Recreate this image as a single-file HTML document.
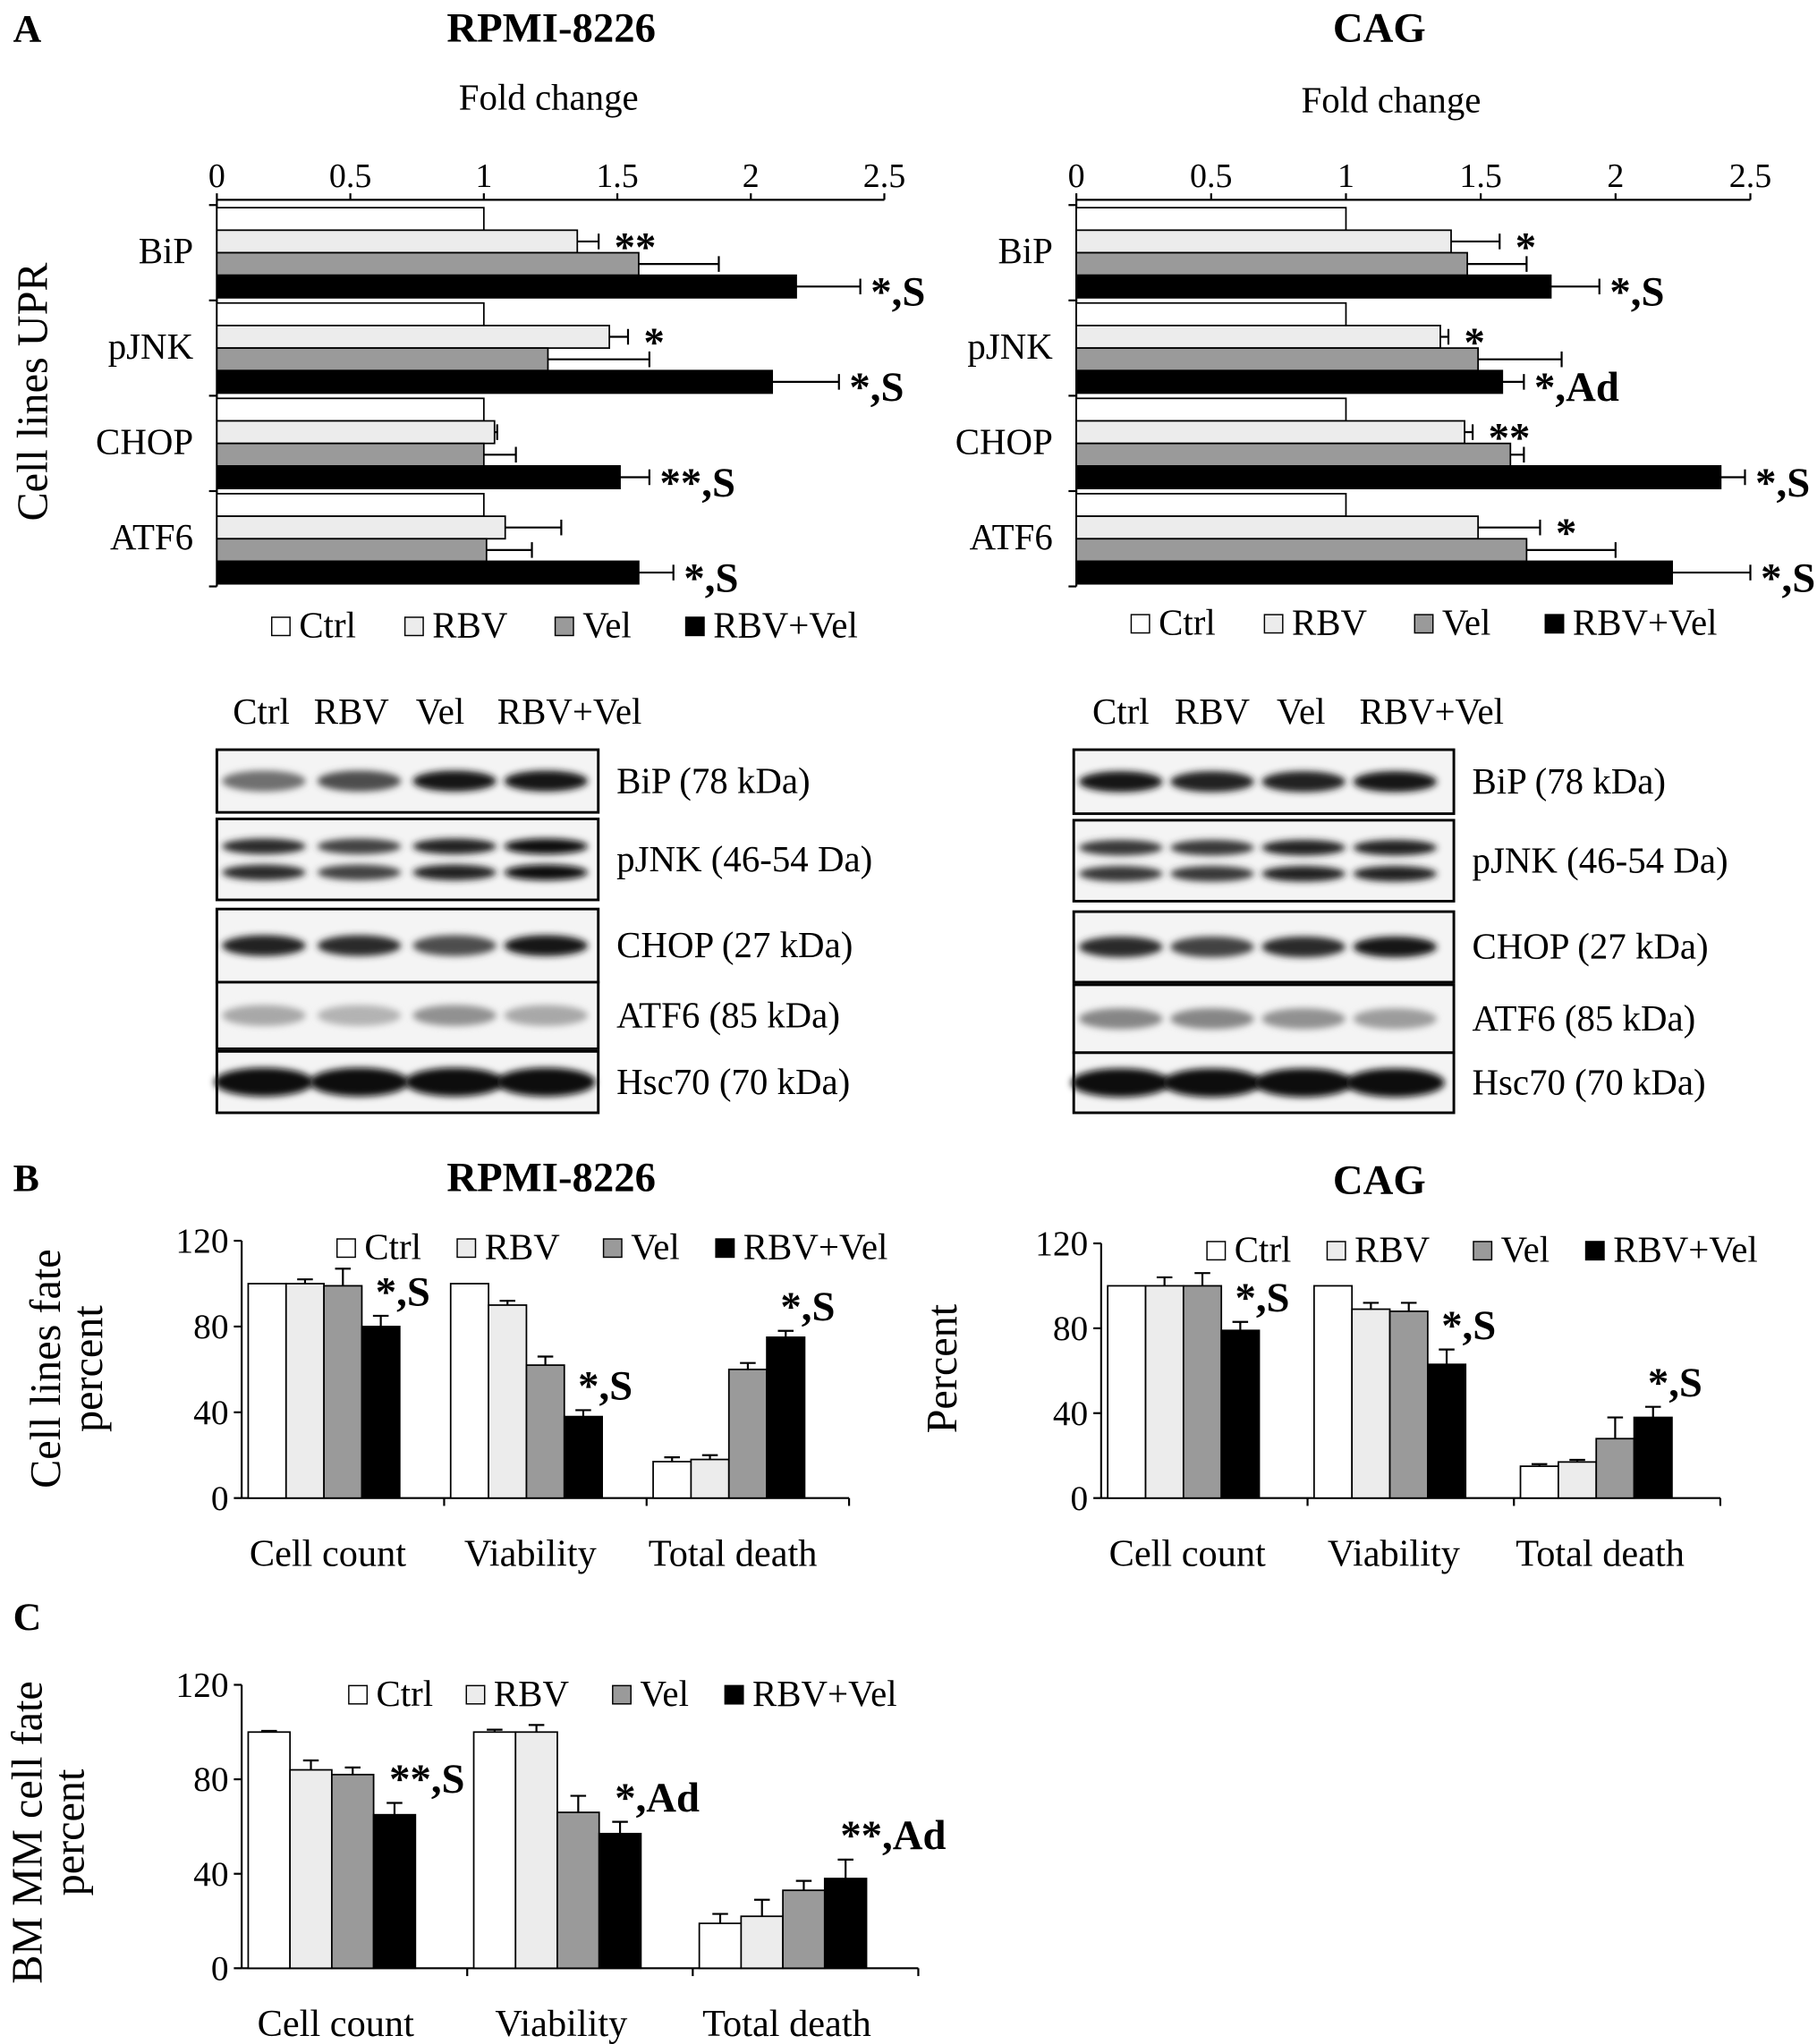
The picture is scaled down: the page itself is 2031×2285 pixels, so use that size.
<!DOCTYPE html>
<html><head><meta charset="utf-8"><style>
html,body{margin:0;padding:0;background:#fff}
svg{display:block}
text{font-family:"Liberation Serif",serif;fill:#000}
</style></head><body>
<svg id="fig" width="2031" height="2285" viewBox="0 0 1391 1565" xmlns="http://www.w3.org/2000/svg">
<defs><filter id="blur" x="-50%" y="-50%" width="200%" height="200%"><feGaussianBlur stdDeviation="2.5"/></filter></defs>
<g id="root"></g>
</svg>
<script>
// ---------- data ----------
const series = ["Ctrl","RBV","Vel","RBV+Vel"];
const upr = ["BiP","pJNK","CHOP","ATF6"];
const foldTicks = [0,0.5,1,1.5,2,2.5];
const rpmiFold = [[1,1.35,1.58,2.17],[1,1.47,1.24,2.08],[1,1.04,1,1.51],[1,1.08,1.01,1.58]];
const rpmiFoldErr = [[null,1.43,1.88,2.41],[null,1.54,1.62,2.33],[null,1.05,1.12,1.62],[null,1.29,1.18,1.71]];
const rpmiFoldSig = [["**","*,S"],["*","*,S"],["","**,S"],["","*,S"]];
const cagFold = [[1,1.39,1.45,1.76],[1,1.35,1.49,1.58],[1,1.44,1.61,2.39],[1,1.49,1.67,2.21]];
const cagFoldErr = [[null,1.57,1.67,1.94],[null,1.38,1.8,1.66],[null,1.47,1.66,2.48],[null,1.72,2.0,2.5]];
const cagFoldSig = [["*","*,S"],["*","*,Ad"],["**","*,S"],["*","*,S"]];
const fateCats = ["Cell count","Viability","Total death"];
const pctTicks = [0,40,80,120];
const rpmiFate = [[100,100,99,80],[100,90,62,38],[17,18,60,75]];
const rpmiFateErr = [[null,102,107,85],[null,92,66,41],[19,20,63,78]];
const rpmiFateSig = ["*,S","*,S","*,S"];
const cagFate = [[100,100,100,79],[100,89,88,63],[15,17,28,38]];
const cagFateErr = [[null,104,106,83],[null,92,92,70],[16,18,38,43]];
const cagFateSig = ["*,S","*,S","*,S"];
const bmFate = [[100,84,82,65],[100,100,66,57],[19,22,33,38]];
const bmFateErr = [[100.5,88,85,70],[101,103,73,62],[23,29,37,46]];
const bmFateSig = ["**,S","*,Ad","**,Ad"];
const blotNames = ["BiP (78 kDa)","pJNK (46-54 Da)","CHOP (27 kDa)","ATF6 (85 kDa)","Hsc70 (70 kDa)"];
const rpmiBand = [[0.55,0.7,0.95,0.95],[0.85,0.75,0.9,1],[0.9,0.85,0.7,0.95],[0.3,0.25,0.4,0.3],[1,1,1,1]];
const cagBand = [[0.95,0.9,0.9,0.95],[0.8,0.8,0.9,0.9],[0.85,0.75,0.85,0.95],[0.45,0.45,0.4,0.35],[1,1,1,1]];
// ---------- helpers ----------
const NS="http://www.w3.org/2000/svg", root=document.getElementById('root');
const fills=["#ffffff","#ececec","#9a9a9a","#000000"];
function el(tag,attrs,parent,txt){const e=document.createElementNS(NS,tag);for(const k in attrs)e.setAttribute(k,attrs[k]);if(txt!==undefined)e.textContent=txt;(parent||root).appendChild(e);return e;}
function txt(x,y,s,size,opts,parent){const o=Object.assign({x:x,y:y,'font-size':size},opts||{});const t=el('text',o,parent,s);return t;}

function legend(x,y,items,gap,size,g){
  let cx=x;
  items.forEach((s,i)=>{
    const r=el('rect',{x:cx,y:y-size*0.55,width:size*0.5,height:size*0.5,fill:fills[i],stroke:'#000','stroke-width':1},g);
    
    
    const t=txt(cx+size*0.75,y,s,size,{},g);
    
    
    cx+=gap[i];
  });
}

function hChart(o){
  const g=el('g',{});
  
  
  const xs=v=>o.x0+(v/2.5)*(o.x1-o.x0);
  el('line',{x1:o.x0,y1:o.y0,x2:o.x1,y2:o.y0,stroke:'#000','stroke-width':1.5},g);
  el('line',{x1:o.x0,y1:o.y0,x2:o.x0,y2:o.y0+o.gh*4+4,stroke:'#000','stroke-width':1.5},g);
  foldTicks.forEach(t=>{
    el('line',{x1:xs(t),y1:o.y0-5,x2:xs(t),y2:o.y0,stroke:'#000','stroke-width':1.5},g);
    const tl=txt(xs(t),o.y0-10,String(t),26,{'text-anchor':'middle'},g);
    
    
  });
  for(let k=0;k<=4;k++)el('line',{x1:o.x0-6,y1:o.y0+4+k*o.gh,x2:o.x0,y2:o.y0+4+k*o.gh,stroke:'#000','stroke-width':1.5},g);
  const bh=(o.gh-4)/4;
  upr.forEach((c,ci)=>{
    const gy=o.y0+6+ci*o.gh;
    const cl=txt(o.x0-18,gy+bh*2+8,c,28,{'text-anchor':'end'},g);
    
    
    o.vals[ci].forEach((v,si)=>{
      const y=gy+si*bh;
      const r=el('rect',{x:o.x0,y:y,width:xs(v)-o.x0,height:bh,fill:fills[si],stroke:'#000','stroke-width':1.2},g);
      
      
      const e=o.err[ci][si];
      if(e!=null){
        el('line',{x1:xs(v),y1:y+bh/2,x2:xs(e),y2:y+bh/2,stroke:'#000','stroke-width':1.5},g);
        el('line',{x1:xs(e),y1:y+bh/2-6,x2:xs(e),y2:y+bh/2+6,stroke:'#000','stroke-width':1.5},g);
      }
    });
    const s=o.sig[ci];
    if(s[0]){const e=Math.max(o.err[ci][1]||0,o.vals[ci][1]);const t=txt(xs(e)+12,gy+bh*2+6,s[0],32,{'font-weight':'bold'},g);}
    if(s[1]){const e=o.err[ci][3];const t=txt(xs(e)+8,gy+bh*4+6,s[1],32,{'font-weight':'bold'},g);}
  });
  return g;
}

function vChart(o){
  const g=el('g',{});
  
  
  const ys=v=>o.y0-(v/120)*(o.y0-o.y1);
  el('line',{x1:o.x0,y1:o.y1,x2:o.x0,y2:o.y0,stroke:'#000','stroke-width':1.5},g);
  el('line',{x1:o.x0,y1:o.y0,x2:o.xe,y2:o.y0,stroke:'#000','stroke-width':1.5},g);
  pctTicks.forEach(t=>{
    el('line',{x1:o.x0-6,y1:ys(t),x2:o.x0,y2:ys(t),stroke:'#000','stroke-width':1.5},g);
    const tl=txt(o.x0-10,ys(t)+9,String(t),27,{'text-anchor':'end'},g);
    
    
  });
  const gw=(o.xe-o.x0)/3;
  for(let k=1;k<=3;k++)el('line',{x1:o.x0+k*gw,y1:o.y0,x2:o.x0+k*gw,y2:o.y0+6,stroke:'#000','stroke-width':1.5},g);
  fateCats.forEach((c,ci)=>{
    const gx=o.x0+ci*gw+o.pad;
    const cl=txt(gx+2*o.bw+3,o.y0+52,c,29,{'text-anchor':'middle'},g);
    
    
    o.vals[ci].forEach((v,si)=>{
      const x=gx+si*o.bw;
      const r=el('rect',{x:x,y:ys(v),width:o.bw,height:o.y0-ys(v),fill:fills[si],stroke:'#000','stroke-width':1.2},g);
      
      
      const e=o.err[ci][si];
      if(e!=null){
        el('line',{x1:x+o.bw/2,y1:ys(v),x2:x+o.bw/2,y2:ys(e),stroke:'#000','stroke-width':1.5},g);
        el('line',{x1:x+o.bw/2-6,y1:ys(e),x2:x+o.bw/2+6,y2:ys(e),stroke:'#000','stroke-width':1.5},g);
      }
    });
    const e=o.err[ci][3];
    const t=txt(gx+3*o.bw+o.bw/2-4,ys(e)-8,o.sig[ci],32,{'font-weight':'bold'},g);
    
    
  });
  return g;
}

function blot(o){
  const g=el('g',{});
  
  
  o.rows.forEach((r,ri)=>{
    const [y0,y1]=r;
    const bg=el('rect',{x:o.x0,y:y0,width:o.x1-o.x0,height:y1-y0,fill:'#f4f4f4',stroke:'#000','stroke-width':2},g);
    
    
    const cy=(y0+y1)/2;
    const bands=ri===1?[cy-10,cy+10]:[cy];
    o.intens[ri].forEach((v,li)=>{
      const shade=Math.round(235-225*v);
      bands.forEach(by=>{
        el('ellipse',{cx:o.lanes[li],cy:by,rx:ri===4?38:32,ry:ri===4?11:(ri===1?6:8),fill:'rgb('+shade+','+shade+','+shade+')',filter:'url(#blur)'},g);
      });
    });
    const lb=txt(o.x1+14,cy+9,blotNames[ri],28,{},g);
    
    
  });
  const labX=o.labX;
  series.forEach((s,i)=>{const t=txt(labX[i],o.labY,s,28,{'text-anchor':'middle'},g);});
  return g;
}

// ---------- titles ----------
[[10,32,'A'],[10,912,'B'],[10,1248,'C']].forEach(a=>{const t=txt(a[0],a[1],a[2],30,{'font-weight':'bold'});});
[[422,32,'RPMI-8226'],[1056,32,'CAG'],[422,912,'RPMI-8226'],[1056,914,'CAG']].forEach(a=>{const t=txt(a[0],a[1],a[2],32,{'font-weight':'bold','text-anchor':'middle'});});
[[420,84],[1065,86]].forEach(a=>{const t=txt(a[0],a[1],'Fold change',28,{'text-anchor':'middle'});});
function ytitle(x,y,lines){lines.forEach((l,i)=>{const t=txt(0,0,l,33,{'text-anchor':'middle',transform:'translate('+(x+i*32)+','+y+') rotate(-90)'});});}
ytitle(36,300,['Cell lines UPR']);
ytitle(46,1048,['Cell lines fate','percent']);
ytitle(732,1048,['Percent']);
ytitle(32,1403,['BM MM cell fate','percent']);

// ---------- charts ----------
hChart({name:'rpmi-fold-chart',x0:166,x1:677,y0:153,gh:73,vals:rpmiFold,err:rpmiFoldErr,sig:rpmiFoldSig});
hChart({name:'cag-fold-chart',x0:824,x1:1340,y0:153,gh:73,vals:cagFold,err:cagFoldErr,sig:cagFoldSig});
legend(208,488,series,[102,115,100,0],28);
legend(866,486,series,[102,115,100,0],28);
blot({name:'rpmi-blot',x0:166,x1:458,lanes:[202,275,348,418],rows:[[574,622],[627,689],[696,752],[752,803],[805,852]],intens:rpmiBand,labX:[200,269,337,436],labY:554});
blot({name:'cag-blot',x0:822,x1:1113,lanes:[858,928,998,1068],rows:[[574,623],[628,690],[698,752],[754,806],[806,852]],intens:cagBand,labX:[858,928,996,1096],labY:554});
vChart({name:'rpmi-fate-chart',x0:185,xe:650,y0:1147,y1:950,pad:5,bw:29,vals:rpmiFate,err:rpmiFateErr,sig:rpmiFateSig});
vChart({name:'cag-fate-chart',x0:843,xe:1317,y0:1147,y1:952,pad:5,bw:29,vals:cagFate,err:cagFateErr,sig:cagFateSig});
vChart({name:'bm-fate-chart',x0:185,xe:703,y0:1507,y1:1290,pad:5,bw:32,vals:bmFate,err:bmFateErr,sig:bmFateSig});
legend(258,964,series,[92,112,86,0],28);
legend(924,966,series,[92,112,86,0],28);
legend(267,1306,series,[90,112,86,0],28);
</script>
</body></html>
